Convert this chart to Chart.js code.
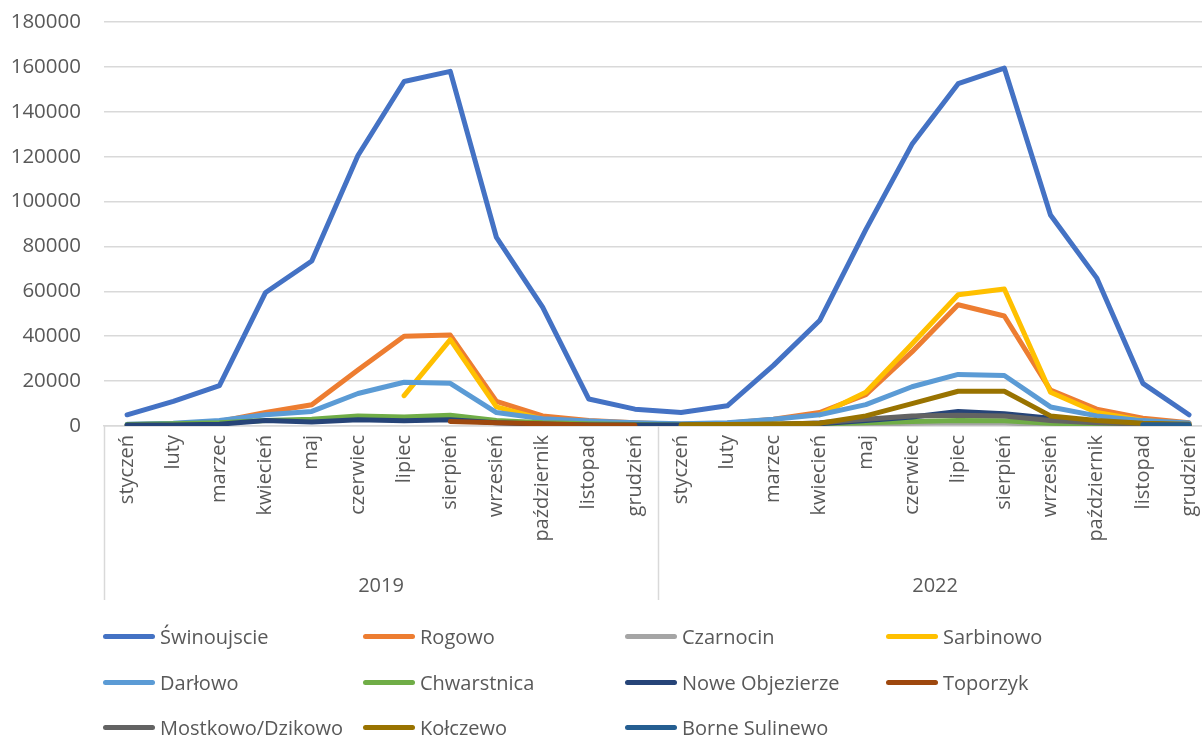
<!DOCTYPE html>
<html>
<head>
<meta charset="utf-8">
<script src="https://cdn.jsdelivr.net/npm/chart.js@4.4.1/dist/chart.umd.min.js"></script>
<style>
  html, body { margin: 0; padding: 0; background: #ffffff; overflow: hidden; }
  #wrap { position: relative; width: 1202px; height: 737px; overflow: hidden; }
  #c { position: absolute; left: 0; top: 0; }
  #legend { position: absolute; left: 0; top: 0; width: 1202px; height: 737px; pointer-events: none;
            font-family: 'Open Sans', sans-serif; font-size: 20px; color: #595959; }
  .lg-item { position: absolute; height: 30px; display: flex; align-items: center; white-space: nowrap; }
  .lg-line { width: 52px; height: 5px; border-radius: 3px; margin-right: 5px; }
</style>
</head>
<body>
<div id="wrap">
  <canvas id="c" width="1222" height="737"></canvas>
  <div id="legend"></div>
</div>
<script>
// ---------- data ----------
const months = ['styczeń','luty','marzec','kwiecień','maj','czerwiec','lipiec','sierpień','wrzesień','październik','listopad','grudzień'];
const years = ['2019', '2022'];
const categories = months.concat(months);

const seriesNames = ['Świnoujscie','Rogowo','Czarnocin','Sarbinowo','Darłowo','Chwarstnica','Nowe Objezierze','Toporzyk','Mostkowo/Dzikowo','Kołczewo','Borne Sulinewo'];
const seriesColors = ['#4472C4','#ED7D31','#A5A5A5','#FFC000','#5B9BD5','#70AD47','#264478','#9E480E','#636363','#997300','#255E91'];

const swinoujscie = [5000, 11000, 18000, 59500, 73500, 120500, 153500, 158000, 84000, 53000, 12000, 7500,
                     6000, 9000, 27000, 47000, 87500, 125500, 152500, 159500, 94000, 66000, 19000, 5000];
const rogowo = [600, 1000, 2000, 6000, 9500, 25000, 40000, 40500, 11000, 4500, 2500, 1500,
                800, 1200, 3000, 6000, 14000, 33000, 54000, 49000, 16000, 7500, 3500, 1500];
const czarnocin = [null, null, null, null, null, null, null, null, null, null, null, null,
                   200, 300, 400, 600, 900, 1200, 1500, 1300, 700, 400, 300, 200];
const sarbinowo = [null, null, null, null, null, null, 13500, 38500, 8500, 3000, 1000, 500,
                   null, null, null, 5000, 15000, 36500, 58500, 61000, 15000, 6000, 2500, 1000];
const darlowo = [800, 1200, 2500, 5000, 6500, 14500, 19500, 19000, 6000, 3200, 2200, 1500,
                 1000, 1500, 3000, 5000, 9500, 17500, 23000, 22500, 8500, 4500, 2400, 1300];
const chwarstnica = [700, 1000, 1500, 2500, 3000, 4500, 4000, 4800, 2500, 1500, 1000, 700,
                     500, 600, 800, 1000, 1500, 2000, 2500, 2300, 1200, 800, 500, 400];
const noweObjezierze = [400, 500, 800, 2500, 1800, 2800, 2300, 2800, 1500, 800, 400, 400,
                        400, 500, 700, 1000, 2500, 4000, 6500, 5500, 3500, 2000, 1000, 500];
const toporzyk = [null, null, null, null, null, null, null, 2000, 1500, 1000, 500, 300,
                  null, null, null, null, null, null, null, null, null, null, null, null];
const mostkowo = [null, null, null, null, null, null, null, null, null, null, null, null,
                  300, 400, 600, 1500, 3000, 4500, 4800, 4500, 2500, 1500, 800, 400];
const kolczewo = [null, null, null, null, null, null, null, null, null, null, null, null,
                  600, 700, 900, 1200, 4500, 10000, 15500, 15500, 4500, 2500, 1200, 800];
const borneSulinewo = [null, null, null, null, null, null, null, null, null, null, null, null,
                       null, null, null, null, null, null, null, null, null, null, 600, 600];

const seriesValues = [swinoujscie, rogowo, czarnocin, sarbinowo, darlowo, chwarstnica, noweObjezierze, toporzyk, mostkowo, kolczewo, borneSulinewo];

const yMin = 0, yMax = 180000, yStep = 20000;

// ---------- chart ----------
Chart.defaults.font.family = "'Open Sans', sans-serif";
Chart.defaults.color = '#595959';

const N = seriesNames.length;
const datasets = seriesNames.map((name, i) => ({
  label: name,
  data: seriesValues[i],
  borderColor: seriesColors[i],
  backgroundColor: seriesColors[i],
  borderWidth: 5,
  borderCapStyle: 'round',
  borderJoinStyle: 'round',
  pointRadius: 0,
  pointHoverRadius: 0,
  tension: 0,
  fill: false,
  spanGaps: false,
  order: N - i   // later series drawn on top (like the source)
}));

const groupLines = {
  id: 'groupLines',
  afterDraw(chart) {
    const xs = chart.scales.x;
    const ctx = chart.ctx;
    const top = chart.chartArea.bottom;
    const bottom = chart.scales.x2.bottom - 10;
    ctx.save();
    ctx.strokeStyle = '#d9d9d9';
    ctx.lineWidth = 1.5;
    const bounds = [-0.5, months.length - 0.5, categories.length - 0.5];
    bounds.forEach(b => {
      const px = Math.round(xs.getPixelForValue(b)) + 0.5;
      ctx.beginPath();
      ctx.moveTo(px, top);
      ctx.lineTo(px, bottom);
      ctx.stroke();
    });
    ctx.restore();
  }
};

const chart = new Chart(document.getElementById('c'), {
  type: 'line',
  data: { labels: categories, datasets },
  options: {
    responsive: false,
    animation: false,
    layout: { padding: { left: 0, right: 0, top: 22, bottom: 127 } },
    plugins: { legend: { display: false }, tooltip: { enabled: false } },
    scales: {
      y: {
        min: yMin, max: yMax,
        ticks: { stepSize: yStep, padding: 0, font: { size: 20.5 }, color: '#595959',
                 callback: (v) => String(v) },
        grid: { color: '#d9d9d9', lineWidth: 1.5, drawTicks: true, tickLength: 23, tickColor: 'rgba(0,0,0,0)' },
        border: { display: false },
        afterFit(s) { s.width = 104; }
      },
      x: {
        type: 'category',
        position: 'bottom',
        weight: 0,
        offset: true,
        ticks: { autoSkip: false, maxRotation: 90, minRotation: 90, padding: 9, font: { size: 20 }, color: '#595959' },
        grid: { display: false, drawTicks: false },
        border: { display: true, color: '#d9d9d9', width: 1.5 },
        afterFit(s) { s.height = 140; }
      },
      x2: {
        type: 'category',
        position: 'bottom',
        weight: 1,
        labels: years,
        offset: true,
        ticks: { autoSkip: false, maxRotation: 0, minRotation: 0, padding: 8, font: { size: 20 }, color: '#595959' },
        grid: { display: false, drawTicks: false },
        border: { display: false },
        afterFit(s) { s.height = 44; }
      }
    }
  },
  plugins: [groupLines]
});

// ---------- legend (HTML, built from chart datasets) ----------
const legendEl = document.getElementById('legend');
const colX = [103, 363, 625, 886];
const rowY = [636, 682, 727];
chart.data.datasets.forEach((ds, i) => {
  const item = document.createElement('div');
  item.className = 'lg-item';
  item.style.left = colX[i % 4] + 'px';
  item.style.top = (rowY[Math.floor(i / 4)] - 15) + 'px';
  const line = document.createElement('span');
  line.className = 'lg-line';
  line.style.background = ds.borderColor;
  const txt = document.createElement('span');
  txt.textContent = ds.label;
  item.appendChild(line);
  item.appendChild(txt);
  legendEl.appendChild(item);
});
</script>
</body>
</html>
